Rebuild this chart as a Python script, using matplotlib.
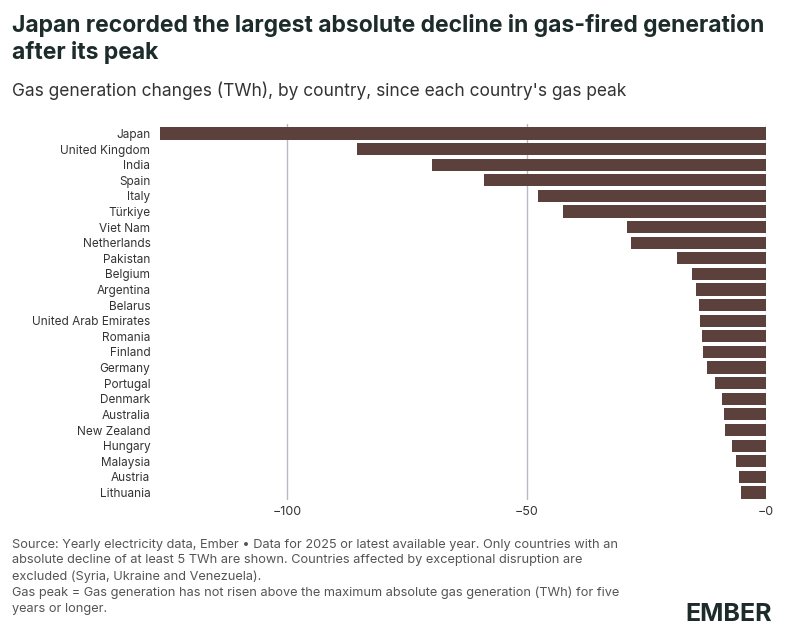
import matplotlib
matplotlib.use("Agg")
import matplotlib.pyplot as plt

countries = ["Japan","United Kingdom","India","Spain","Italy","Türkiye","Viet Nam","Netherlands",
             "Pakistan","Belgium","Argentina","Belarus","United Arab Emirates","Romania","Finland",
             "Germany","Portugal","Denmark","Australia","New Zealand","Hungary","Malaysia","Austria","Lithuania"]
changes = [-126.6,-85.4,-69.7,-58.8,-47.7,-42.3,-28.9,-28.2,-18.6,-15.3,-14.6,-14.0,-13.8,-13.4,
           -13.0,-12.3,-10.5,-9.2,-8.8,-8.4,-7.1,-6.1,-5.6,-5.2]
ticks = [-100, -50, 0]
tick_labels = ["−100", "−50", "−0"]

plt.rcParams['font.family'] = ['Inter', 'DejaVu Sans']
fig = plt.figure(figsize=(8, 6.43), dpi=100)
ax = fig.add_axes([0.195, 0.222, 0.762, 0.585])
y = range(len(countries))
ax.barh(list(y), changes, height=0.78, color="#5b403b", zorder=3)
ax.set_yticks(list(y))
ax.set_yticklabels(countries, fontsize=8.5, color="#333333")
ax.invert_yaxis()
ax.set_ylim(len(countries)-0.5, -0.6)
ax.set_xlim(-127.5, 0)
ax.set_xticks(ticks)
ax.set_xticklabels(tick_labels, fontsize=9, color="#333333")
ax.grid(axis="x", color="#b8b8cc", linewidth=1, zorder=0)
for s in ax.spines.values():
    s.set_visible(False)
ax.tick_params(length=0, pad=4)

fig.text(0.015, 0.978, "Japan recorded the largest absolute decline in gas-fired generation\nafter its peak",
         fontsize=16.5, fontweight="bold", color="#1d2b2b", va="top", linespacing=1.2)
fig.text(0.015, 0.873, "Gas generation changes (TWh), by country, since each country's gas peak",
         fontsize=12.5, color="#333333", va="top")
fig.text(0.015, 0.162, "Source: Yearly electricity data, Ember • Data for 2025 or latest available year. Only countries with an\n"
         "absolute decline of at least 5 TWh are shown. Countries affected by exceptional disruption are\n"
         "excluded (Syria, Ukraine and Venezuela).\n"
         "Gas peak = Gas generation has not risen above the maximum absolute gas generation (TWh) for five\n"
         "years or longer.", fontsize=9.2, color="#555555", va="top", linespacing=1.4)
fig.text(0.965, 0.045, "EMBER", fontsize=18, fontweight="bold", color="#1d2b2b", ha="right", va="center")
fig.savefig("out.png", dpi=100, facecolor="white")
